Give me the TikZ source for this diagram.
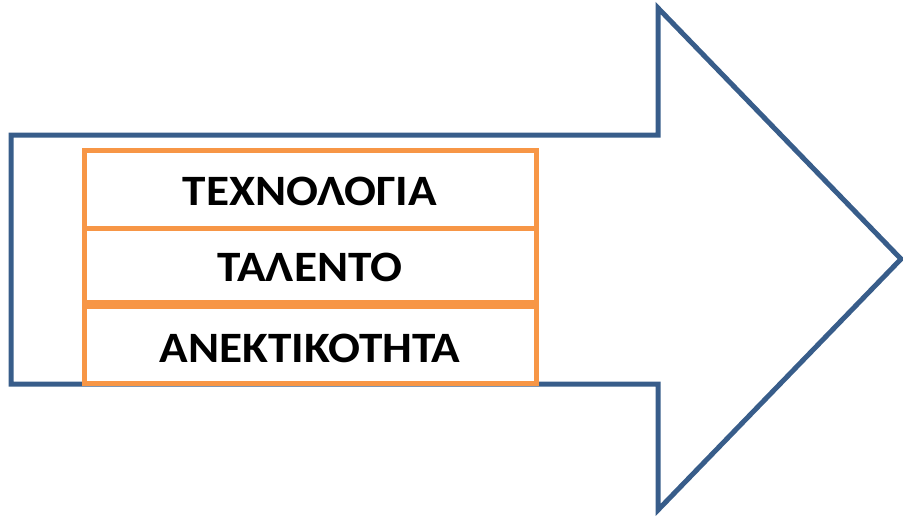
\documentclass[tikz,border=0pt]{standalone}
\usepackage{fontspec}
\setmainfont{Carlito}
\usetikzlibrary{calc}
\definecolor{arrowblue}{RGB}{56,93,138}
\definecolor{boxorange}{RGB}{247,150,70}
\newcommand{\widecaps}[1]{\scalebox{1.09}[1]{#1}}
\tikzset{every picture/.style={line width=0.75pt}}

\begin{document}
\begin{tikzpicture}[x=0.75pt,y=0.75pt,yscale=-1,xscale=1,
  factor/.style={draw=boxorange,line width=3.75pt,minimum width=339pt,inner sep=0pt,text depth=0pt,font=\fontsize{32.5}{36}\selectfont\bfseries}]
\useasboundingbox (0,0) rectangle (903,515);

%Shape: Right Arrow
\draw [color=arrowblue, line width=3.75pt, line join=miter]  (11,135) -- (658,135) -- (658,8) -- (901,259) -- (658,510) -- (658,384) -- (11,384) -- cycle ;

% Factor boxes
\node [factor, minimum height=58.5pt, text height=25.4pt] (tech) at (310,189) {\widecaps{ΤΕΧΝΟΛΟΓΙΑ}};
\node [factor, minimum height=55.5pt, text height=25.4pt] (talent) at (310,265) {\widecaps{ΤΑΛΕΝΤΟ}};
\node [factor, minimum height=57.75pt, text height=26.9pt] (tolerance) at (310,344.5) {\widecaps{ΑΝΕΚΤΙΚΟΤΗΤΑ}};

\end{tikzpicture}
\end{document}
